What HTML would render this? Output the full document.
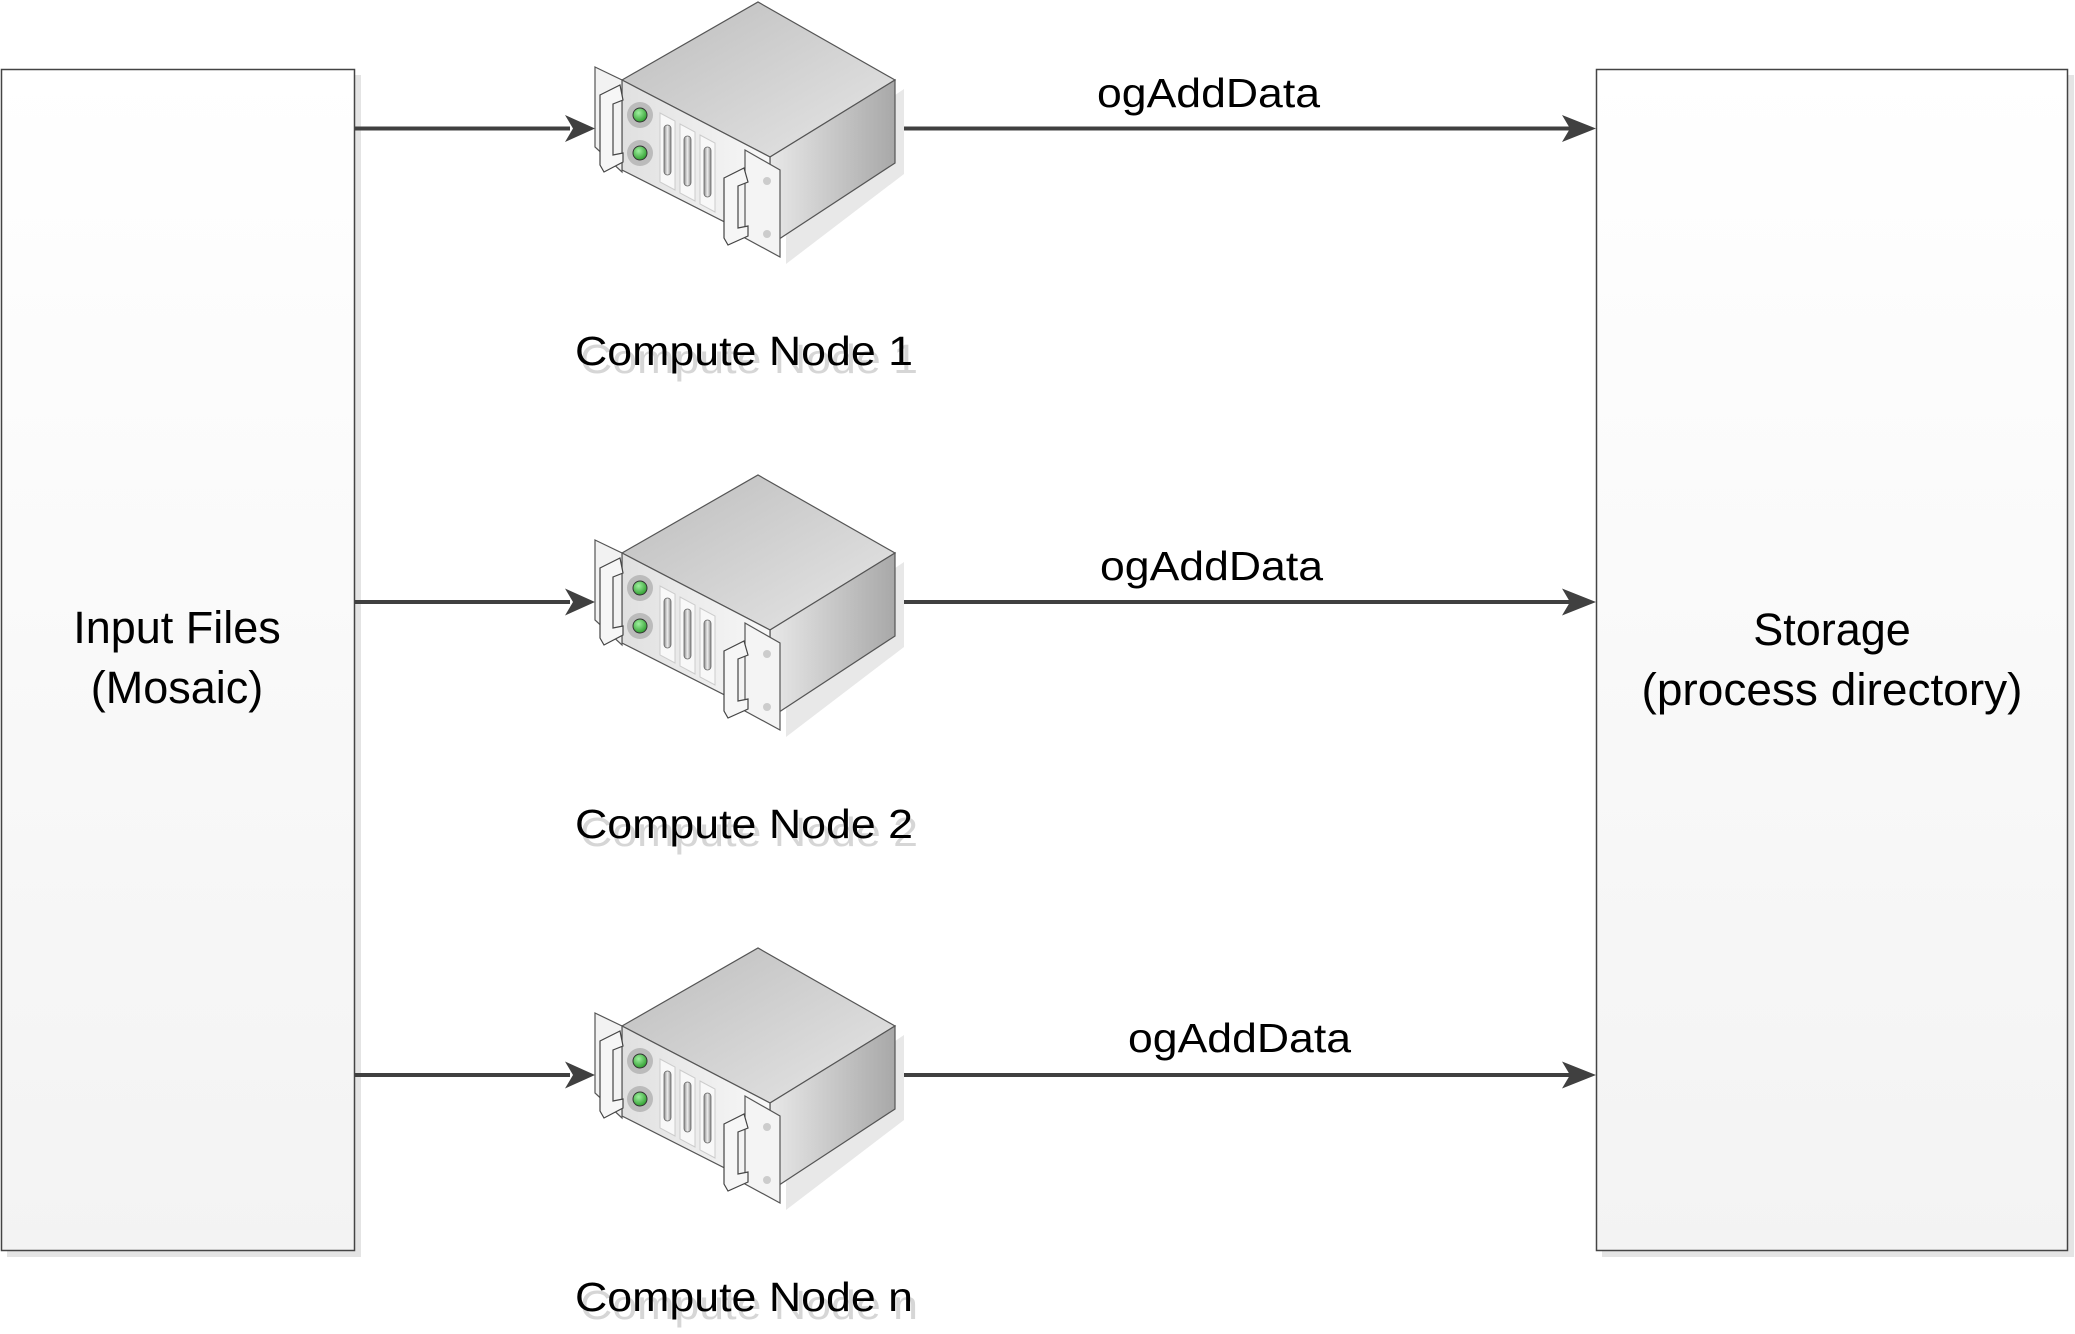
<!DOCTYPE html>
<html><head><meta charset="utf-8"><style>html,body{margin:0;padding:0;background:#fff}svg{display:block}</style></head>
<body>
<svg width="2075" height="1334" viewBox="0 0 2075 1334" xmlns="http://www.w3.org/2000/svg" font-family="'Liberation Sans', sans-serif">
<defs>
<linearGradient id="box" x1="0" y1="0" x2="0" y2="1"><stop offset="0" stop-color="#ffffff"/><stop offset="1" stop-color="#f3f3f3"/></linearGradient>
<linearGradient id="top" x1="0" y1="0" x2="1" y2="1"><stop offset="0" stop-color="#bdbdbd"/><stop offset="1" stop-color="#e6e6e6"/></linearGradient>
<linearGradient id="right" x1="0" y1="0" x2="1" y2="0"><stop offset="0" stop-color="#e8e8e8"/><stop offset="1" stop-color="#a8a8a8"/></linearGradient>
<linearGradient id="front" x1="0" y1="0" x2="1" y2="0"><stop offset="0" stop-color="#e0e0e0"/><stop offset="1" stop-color="#f8f8f8"/></linearGradient>
<radialGradient id="led" cx="0.4" cy="0.35" r="0.7"><stop offset="0" stop-color="#9ff09f"/><stop offset="1" stop-color="#2a9a2a"/></radialGradient>
<linearGradient id="slot" x1="0" y1="0" x2="1" y2="0"><stop offset="0" stop-color="#888"/><stop offset="0.5" stop-color="#eee"/><stop offset="1" stop-color="#888"/></linearGradient>
<g id="srv">
  <polygon points="782,260 900,170 900,85 782,165" fill="#e8e8e8" transform="translate(4,4)"/>
  <polygon points="622,80 758,2 895,80 770,157" fill="url(#top)" stroke="#555" stroke-width="1.2"/>
  <polygon points="770,157 895,80 895,163 770,245" fill="url(#right)" stroke="#555" stroke-width="1.2"/>
  <polygon points="622,80 770,157 770,245 622,170" fill="url(#front)" stroke="#555" stroke-width="1.2"/>
  <polygon points="595,67 622,80 622,172 595,147" fill="#f2f2f2" stroke="#555" stroke-width="1.2"/>
  <polygon points="745,150 780,170 780,257 745,238" fill="#f4f4f4" stroke="#555" stroke-width="1.2"/>
  <circle cx="767" cy="181" r="4" fill="#ccc"/><circle cx="767" cy="234" r="4" fill="#ccc"/>
  <circle cx="640" cy="115" r="13" fill="#bbb"/><circle cx="640" cy="115" r="7" fill="url(#led)" stroke="#333" stroke-width="1"/>
  <circle cx="640" cy="153" r="13" fill="#bbb"/><circle cx="640" cy="153" r="7" fill="url(#led)" stroke="#333" stroke-width="1"/>
  <polygon points="660,113 675,121 675,190 660,182" fill="#f8f8f8" stroke="#ccc"/>
  <rect x="664" y="125" width="7" height="50" rx="3.5" fill="url(#slot)" stroke="#666" stroke-width="0.8"/>
  <polygon points="680,124 695,132 695,201 680,193" fill="#f8f8f8" stroke="#ccc"/>
  <rect x="684" y="136" width="7" height="50" rx="3.5" fill="url(#slot)" stroke="#666" stroke-width="0.8"/>
  <polygon points="700,135 715,143 715,212 700,204" fill="#f8f8f8" stroke="#ccc"/>
  <rect x="704" y="147" width="7" height="50" rx="3.5" fill="url(#slot)" stroke="#666" stroke-width="0.8"/>
  <path d="M600,95 L620,85 L623,100 L613,104 L613,155 L623,153 L623,162 L604,172 L600,165 Z" fill="#f6f6f6" stroke="#444" stroke-width="1.2"/>
  <path d="M724,178 L744,168 L748,182 L738,186 L738,228 L748,226 L748,236 L728,245 L724,238 Z" fill="#f6f6f6" stroke="#444" stroke-width="1.2"/>
</g>
</defs>

<rect x="7" y="75" width="354" height="1182" fill="#e4e4e4"/>
<rect x="1.5" y="69.5" width="353" height="1181" fill="url(#box)" stroke="#444" stroke-width="1.5"/>
<rect x="1602" y="75" width="472" height="1182" fill="#e4e4e4"/>
<rect x="1596.5" y="69.5" width="471" height="1181" fill="url(#box)" stroke="#444" stroke-width="1.5"/>

<text x="177" y="643" font-size="45" text-anchor="middle" fill="#000">Input Files</text>
<text x="177" y="703" font-size="45" text-anchor="middle" fill="#000">(Mosaic)</text>
<text x="1832" y="645" font-size="45" text-anchor="middle" fill="#000">Storage</text>
<text x="1832" y="705" font-size="45" text-anchor="middle" fill="#000" textLength="381" lengthAdjust="spacingAndGlyphs">(process directory)</text>

<g stroke="#404040" stroke-width="4" fill="none">
  <line x1="355" y1="128.5" x2="570" y2="128.5"/>
  <line x1="355" y1="602" x2="570" y2="602"/>
  <line x1="355" y1="1075" x2="570" y2="1075"/>
  <line x1="893" y1="128.5" x2="1570" y2="128.5"/>
  <line x1="893" y1="602" x2="1570" y2="602"/>
  <line x1="893" y1="1075" x2="1570" y2="1075"/>
</g>
<g fill="#404040">
  <polygon points="595,128.5 565,115 573,128.5 565,142"/>
  <polygon points="595,602 565,588.5 573,602 565,615.5"/>
  <polygon points="595,1075 565,1061.5 573,1075 565,1088.5"/>
  <polygon points="1596,128.5 1562,115 1570,128.5 1562,142"/>
  <polygon points="1596,602 1562,588.5 1570,602 1562,615.5"/>
  <polygon points="1596,1075 1562,1061.5 1570,1075 1562,1088.5"/>
</g>

<use href="#srv"/>
<use href="#srv" transform="translate(0,473)"/>
<use href="#srv" transform="translate(0,946)"/>

<g font-size="41" fill="#000">
  <text x="1097" y="107" textLength="223" lengthAdjust="spacingAndGlyphs">ogAddData</text>
  <text x="1100" y="580" textLength="223" lengthAdjust="spacingAndGlyphs">ogAddData</text>
  <text x="1128" y="1052" textLength="223" lengthAdjust="spacingAndGlyphs">ogAddData</text>
</g>

<g font-size="41">
  <text x="580" y="373" fill="#d6d6d6" textLength="338" lengthAdjust="spacingAndGlyphs">Compute Node 1</text>
  <text x="575" y="365" fill="#000" textLength="338" lengthAdjust="spacingAndGlyphs">Compute Node 1</text>
  <text x="580" y="846" fill="#d6d6d6" textLength="338" lengthAdjust="spacingAndGlyphs">Compute Node 2</text>
  <text x="575" y="838" fill="#000" textLength="338" lengthAdjust="spacingAndGlyphs">Compute Node 2</text>
  <text x="580" y="1319" fill="#d6d6d6" textLength="338" lengthAdjust="spacingAndGlyphs">Compute Node n</text>
  <text x="575" y="1311" fill="#000" textLength="338" lengthAdjust="spacingAndGlyphs">Compute Node n</text>
</g>
</svg>
</body></html>
